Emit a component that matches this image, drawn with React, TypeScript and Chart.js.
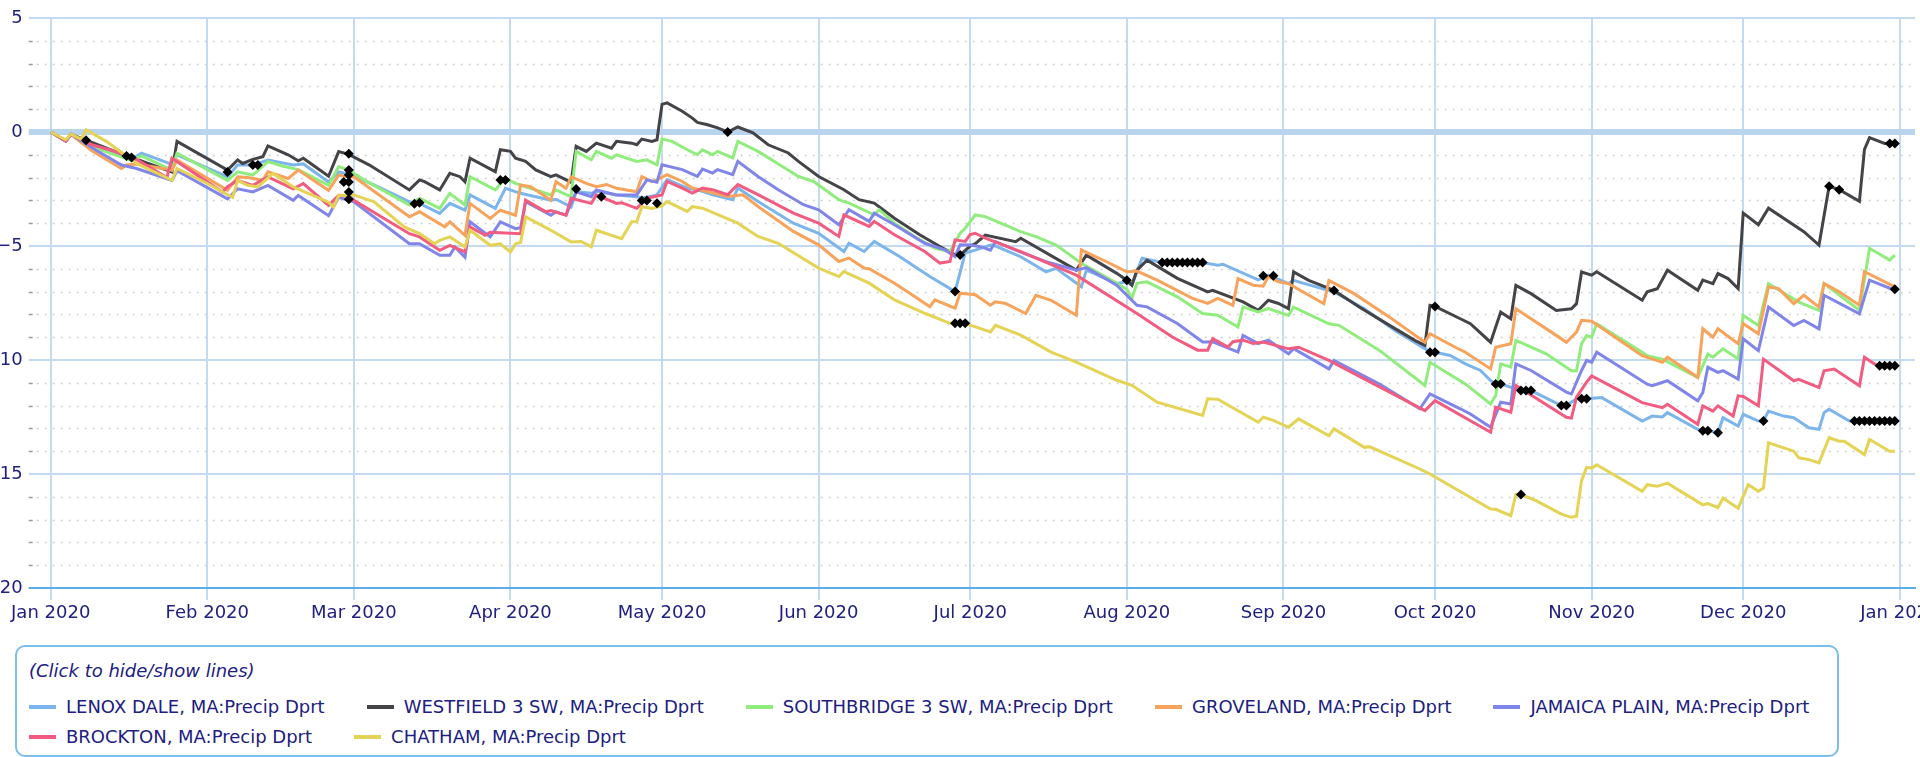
import React, { useEffect, useRef } from 'react';
import { Chart, registerables } from 'chart.js';

Chart.register(...registerables);

// Days counted from 1 Jan 2020 (day 0). 2020 is a leap year.
const monthStartDays = [0, 31, 60, 91, 121, 152, 182, 213, 244, 274, 305, 335, 366];
const monthLabels = [
  'Jan 2020', 'Feb 2020', 'Mar 2020', 'Apr 2020', 'May 2020', 'Jun 2020',
  'Jul 2020', 'Aug 2020', 'Sep 2020', 'Oct 2020', 'Nov 2020', 'Dec 2020', 'Jan 2021',
];
const yTickValues = [-20, -19, -18, -17, -16, -15, -14, -13, -12, -11, -10, -9, -8, -7, -6, -5, -4, -3, -2, -1, 0, 1, 2, 3, 4, 5];

const seriesNames = [
  'LENOX DALE, MA:Precip Dprt',
  'WESTFIELD 3 SW, MA:Precip Dprt',
  'SOUTHBRIDGE 3 SW, MA:Precip Dprt',
  'GROVELAND, MA:Precip Dprt',
  'JAMAICA PLAIN, MA:Precip Dprt',
  'BROCKTON, MA:Precip Dprt',
  'CHATHAM, MA:Precip Dprt',
];
const seriesColors = ['#7cb5ec', '#434348', '#90ed7d', '#f7a35c', '#8085e9', '#f15c80', '#e4d354'];

// [day, departure (in)]
const lenoxDale: [number, number][] = [
  [0, 0], [3, -0.4], [4, -0.1], [10, -0.7], [16, -1.2], [18, -0.93], [24, -1.42], [25, -1.0], [35, -1.97], [37, -1.45],
  [40, -1.45], [43, -1.23], [48, -1.45], [50, -1.4], [55, -2.19], [57, -1.75], [59, -1.85], [64, -2.32], [71, -3.06], [73, -3.13],
  [77, -3.57], [79, -3.13], [82, -3.43], [83, -2.76], [88, -3.35], [90, -2.47], [93, -2.69], [99, -2.99], [100, -2.95], [103, -3.28],
  [104, -2.62], [107, -2.69], [108, -2.6], [112, -2.76], [116, -2.84], [117, -2.9], [120, -2.76], [122, -2.09], [126, -2.46], [129, -2.6],
  [131, -2.75], [135, -2.97], [136, -2.46], [140, -3.05], [147, -4.0], [152, -4.44], [157, -5.24], [158, -4.88], [161, -5.24], [163, -4.8],
  [168, -5.46], [174, -6.34], [179, -7.0], [181, -5.31], [183, -5.18], [186, -4.96], [187, -5.0], [192, -5.47], [197, -6.13], [199, -5.98],
  [204, -6.79], [205, -6.06], [211, -6.64], [213, -6.57], [214, -6.72], [216, -5.54], [220, -5.72], [221, -5.72], [222, -5.72], [223, -5.72],
  [224, -5.72], [225, -5.72], [226, -5.72], [227, -5.72], [228, -5.72], [231, -5.84], [232, -5.8], [239, -6.49], [241, -6.28], [245, -6.65],
  [246, -6.51], [254, -7.02], [260, -7.75], [266, -8.7], [272, -9.5], [273, -9.66], [274, -9.66], [277, -9.8], [280, -10.17], [283, -10.46],
  [285, -10.9], [286, -11.05], [287, -11.05], [291, -11.34], [292, -11.34], [293, -11.34], [299, -12.0], [300, -12.0], [302, -11.7], [303, -11.7],
  [304, -11.7], [307, -11.65], [315, -12.68], [317, -12.46], [319, -12.5], [320, -12.31], [326, -13.04], [327, -13.1], [328, -13.1], [330, -13.19],
  [331, -12.53], [334, -12.9], [335, -12.38], [338, -12.68], [339, -12.68], [340, -12.24], [343, -12.46], [345, -12.53], [348, -12.97], [350, -13.04],
  [351, -12.31], [352, -12.16], [356, -12.68], [357, -12.68], [358, -12.68], [359, -12.68], [360, -12.68], [361, -12.68], [362, -12.68], [363, -12.68],
  [364, -12.68], [365, -12.68],
];

const westfield: [number, number][] = [
  [0, 0], [3, -0.4], [4, -0.1], [7, -0.36], [15, -1.05], [16, -1.12], [24, -1.75], [25, -0.41], [35, -1.67], [37, -1.23],
  [38, -1.38], [40, -1.2], [42, -1.08], [43, -0.61], [47, -1.0], [49, -1.26], [50, -1.15], [55, -1.94], [57, -0.86], [59, -0.98],
  [63, -1.44], [71, -2.54], [73, -2.1], [74, -2.18], [77, -2.54], [79, -1.81], [81, -1.96], [82, -2.18], [83, -1.15], [88, -1.74],
  [89, -0.78], [91, -0.85], [92, -1.15], [94, -1.29], [96, -1.66], [99, -1.96], [100, -1.88], [103, -2.2], [104, -0.63], [106, -0.85],
  [108, -0.49], [111, -0.71], [112, -0.41], [115, -0.49], [116, -0.56], [117, -0.31], [119, -0.41], [120, -0.34], [121, 1.21], [122, 1.28],
  [125, 0.91], [127, 0.61], [128, 0.42], [130, 0.32], [132, 0.18], [134, 0], [136, 0.22], [139, -0.04], [142, -0.56], [146, -0.92],
  [148, -1.29], [152, -1.95], [157, -2.53], [160, -2.97], [163, -3.12], [167, -3.78], [172, -4.51], [176, -5.02], [179, -5.39], [180, -5.39],
  [182, -5.0], [183, -4.9], [185, -4.52], [191, -4.81], [192, -4.66], [203, -6.06], [205, -5.4], [211, -6.2], [213, -6.5], [214, -6.72],
  [215, -6.06], [217, -5.62], [223, -6.42], [226, -6.72], [229, -7.01], [230, -6.94], [236, -7.45], [239, -7.82], [241, -7.38], [243, -7.52],
  [245, -7.75], [246, -6.14], [249, -6.51], [254, -6.95], [259, -7.68], [265, -8.48], [270, -9.14], [272, -9.36], [273, -7.6], [274, -7.65],
  [279, -8.19], [281, -8.41], [285, -9.22], [287, -7.9], [289, -8.19], [290, -6.73], [293, -7.09], [298, -7.83], [301, -7.75], [302, -7.53],
  [303, -6.14], [305, -6.28], [306, -6.13], [315, -7.38], [316, -7.01], [318, -6.87], [320, -6.06], [326, -6.94], [327, -6.5], [329, -6.65],
  [330, -6.21], [332, -6.43], [334, -6.87], [335, -3.56], [338, -4.07], [340, -3.34], [347, -4.37], [350, -4.96], [352, -2.38], [354, -2.53],
  [358, -3.04], [359, -0.76], [360, -0.25], [363, -0.5], [364, -0.5], [365, -0.5],
];

const southbridge: [number, number][] = [
  [0, 0], [3, -0.4], [4, -0.1], [10, -0.8], [16, -1.25], [18, -1.05], [24, -1.67], [25, -0.93], [35, -2.12], [37, -1.75],
  [40, -1.89], [43, -1.3], [46, -1.5], [49, -1.65], [55, -2.34], [57, -1.52], [59, -1.67], [62, -2.1], [71, -3.2], [73, -2.91],
  [77, -3.35], [79, -2.69], [82, -3.2], [83, -1.96], [88, -2.54], [90, -2.03], [92, -2.25], [94, -2.4], [99, -2.76], [100, -2.54],
  [103, -2.84], [104, -0.85], [107, -1.22], [108, -0.85], [111, -1.15], [112, -1.0], [116, -1.29], [118, -1.22], [120, -1.44], [121, -0.31],
  [123, -0.41], [126, -0.78], [128, -1.0], [129, -0.78], [131, -1.0], [132, -0.85], [135, -1.14], [136, -0.41], [140, -0.85], [148, -1.95],
  [151, -2.17], [156, -2.97], [158, -3.12], [163, -3.63], [164, -3.41], [167, -4.0], [171, -4.58], [175, -5.1], [178, -5.24], [180, -4.44],
  [181, -4.22], [183, -3.64], [185, -3.71], [192, -4.37], [195, -4.59], [199, -4.96], [204, -5.76], [210, -6.5], [213, -6.9], [214, -7.3],
  [215, -6.64], [217, -6.57], [223, -7.23], [228, -7.96], [231, -8.04], [235, -8.55], [236, -7.67], [239, -7.89], [241, -7.74], [245, -8.05],
  [246, -7.68], [253, -8.41], [255, -8.48], [263, -9.58], [272, -11.12], [273, -10.1], [280, -11.05], [285, -11.93], [286, -11.56], [287, -10.17],
  [289, -10.31], [290, -9.14], [296, -9.73], [301, -10.47], [302, -10.47], [303, -9.29], [304, -8.93], [305, -9.0], [306, -8.41], [315, -9.66],
  [316, -9.81], [319, -9.96], [326, -10.76], [328, -9.74], [329, -9.88], [331, -9.51], [334, -9.96], [335, -8.04], [338, -8.49], [340, -6.65],
  [346, -7.46], [350, -7.82], [351, -6.65], [358, -7.82], [360, -5.1], [364, -5.62], [365, -5.4],
];

const groveland: [number, number][] = [
  [0, 0], [3, -0.4], [4, -0.1], [8, -0.8], [14, -1.6], [15, -1.45], [17, -1.4], [24, -1.67], [25, -1.23], [35, -2.56],
  [37, -1.97], [39, -2.0], [42, -2.12], [43, -1.75], [47, -2.04], [49, -1.67], [55, -2.56], [57, -1.89], [59, -1.97], [60, -1.96],
  [71, -3.72], [73, -3.5], [78, -4.16], [79, -3.94], [82, -4.53], [83, -3.13], [87, -3.79], [89, -3.43], [92, -3.65], [93, -2.32],
  [95, -2.4], [99, -2.99], [100, -2.18], [102, -2.47], [103, -1.96], [106, -2.25], [108, -2.4], [110, -2.3], [112, -2.47], [116, -2.62],
  [117, -1.96], [119, -2.18], [120, -2.1], [122, -1.87], [125, -2.17], [127, -2.46], [130, -2.61], [134, -2.83], [137, -2.75], [140, -3.27],
  [147, -4.36], [152, -4.95], [156, -5.68], [158, -5.53], [161, -5.97], [162, -6.0], [167, -6.63], [171, -7.22], [174, -7.66], [175, -7.36],
  [179, -7.73], [180, -7.07], [183, -7.14], [186, -7.6], [187, -7.45], [189, -7.52], [193, -7.96], [195, -7.16], [198, -7.38], [203, -8.04],
  [204, -5.18], [209, -5.69], [213, -6.13], [215, -6.1], [219, -6.5], [226, -7.3], [229, -7.52], [231, -7.3], [234, -7.6], [235, -6.43],
  [238, -6.72], [240, -6.76], [241, -6.34], [243, -6.57], [245, -6.65], [252, -7.53], [253, -6.51], [258, -7.09], [265, -8.12], [272, -9.22],
  [273, -8.85], [278, -9.44], [280, -9.66], [285, -10.39], [286, -9.44], [289, -9.29], [290, -7.75], [298, -8.92], [300, -9.22], [302, -8.78],
  [303, -8.26], [305, -8.3], [315, -9.81], [319, -10.1], [320, -9.88], [326, -10.76], [327, -8.63], [329, -9.0], [330, -8.63], [334, -9.29],
  [335, -8.41], [338, -8.85], [340, -6.79], [342, -6.87], [345, -7.53], [347, -7.16], [350, -7.68], [351, -6.65], [354, -7.01], [358, -7.6],
  [359, -6.13], [365, -6.79],
];

const jamaicaPlain: [number, number][] = [
  [0, 0], [3, -0.4], [4, -0.1], [9, -0.8], [14, -1.45], [17, -1.6], [24, -2.12], [25, -1.7], [35, -2.93], [37, -2.49],
  [40, -2.63], [43, -2.34], [48, -3.0], [49, -2.78], [55, -3.67], [57, -2.86], [59, -3.0], [60, -3.06], [71, -4.9], [73, -4.9],
  [77, -5.41], [79, -5.41], [80, -5.04], [82, -5.49], [83, -3.94], [87, -4.6], [89, -3.94], [92, -4.24], [93, -4.2], [94, -3.06],
  [99, -3.65], [100, -3.5], [102, -3.65], [104, -2.62], [107, -2.84], [108, -2.54], [112, -2.76], [116, -2.76], [118, -2.1], [120, -2.2],
  [121, -1.44], [125, -1.65], [128, -1.95], [129, -1.63], [131, -1.8], [132, -1.65], [135, -1.87], [136, -1.29], [140, -1.95], [144, -2.53],
  [149, -3.19], [152, -3.41], [156, -4.07], [158, -3.41], [162, -3.92], [163, -3.56], [167, -4.07], [173, -4.88], [177, -5.17], [179, -5.46],
  [180, -4.95], [182, -4.96], [184, -5.03], [186, -5.18], [187, -4.81], [191, -5.18], [197, -5.69], [203, -6.06], [205, -5.95], [211, -6.72],
  [215, -7.6], [217, -7.67], [223, -8.4], [228, -9.21], [230, -9.2], [235, -9.65], [236, -8.92], [239, -9.28], [241, -9.13], [245, -9.73],
  [246, -9.5], [253, -10.39], [254, -10.02], [263, -11.05], [271, -12.14], [273, -11.49], [279, -12.14], [281, -12.37], [285, -12.95], [287, -11.85],
  [289, -11.93], [290, -10.17], [293, -10.46], [300, -11.41], [301, -11.49], [303, -10.46], [304, -10.02], [305, -10.1], [306, -9.66], [316, -11.06],
  [317, -11.13], [320, -10.91], [326, -11.79], [327, -11.43], [328, -10.32], [330, -10.54], [331, -10.47], [334, -10.84], [335, -9.07], [338, -9.59],
  [340, -7.68], [345, -8.49], [347, -8.26], [350, -8.63], [351, -7.16], [358, -7.97], [360, -6.5], [365, -6.94],
];

const brockton: [number, number][] = [
  [0, 0], [3, -0.4], [4, -0.1], [8, -0.55], [12, -0.8], [17, -1.2], [23, -2.0], [24, -1.15], [34, -2.63], [35, -2.4],
  [37, -2.12], [40, -2.34], [43, -1.97], [48, -2.49], [50, -2.26], [55, -3.22], [57, -2.78], [59, -2.8], [60, -2.99], [71, -4.46],
  [73, -4.6], [77, -5.19], [79, -4.97], [82, -5.26], [83, -4.16], [86, -4.53], [87, -4.4], [93, -4.46], [94, -2.99], [98, -3.5],
  [99, -3.45], [102, -3.65], [103, -2.91], [107, -3.13], [108, -2.76], [112, -3.13], [113, -3.1], [116, -3.35], [118, -2.91], [121, -2.76],
  [122, -2.17], [125, -2.46], [127, -2.68], [129, -2.46], [131, -2.53], [134, -2.75], [136, -2.31], [140, -2.75], [147, -3.56], [152, -4.0],
  [156, -4.58], [157, -3.63], [162, -4.14], [163, -3.92], [167, -4.51], [173, -5.24], [176, -5.75], [178, -5.68], [179, -4.73], [181, -4.8],
  [182, -4.5], [183, -4.44], [185, -4.66], [192, -5.25], [203, -6.28], [215, -7.96], [222, -8.99], [227, -9.57], [229, -9.57], [230, -9.06],
  [233, -9.43], [234, -9.2], [236, -9.13], [238, -9.28], [240, -9.21], [245, -9.51], [247, -9.44], [253, -10.02], [272, -12.22], [274, -11.78],
  [285, -13.17], [286, -12.07], [289, -12.29], [290, -11.12], [300, -12.51], [301, -12.55], [302, -11.63], [304, -10.97], [305, -10.7], [315, -11.87],
  [319, -12.09], [320, -11.94], [326, -12.82], [327, -12.01], [329, -12.24], [330, -12.01], [333, -12.46], [334, -11.57], [335, -11.6], [338, -12.01],
  [339, -9.96], [345, -10.91], [346, -10.85], [350, -11.21], [351, -10.47], [353, -10.4], [358, -11.13], [359, -9.88], [361, -10.18], [362, -10.25],
  [365, -10.25],
];

const chatham: [number, number][] = [
  [0, 0], [3, -0.34], [4, -0.09], [6, -0.31], [7, 0.1], [11, -0.41], [17, -1.38], [24, -2.12], [25, -1.6], [31, -2.26],
  [36, -2.86], [37, -2.12], [39, -2.34], [41, -2.41], [44, -1.82], [48, -2.41], [55, -3.08], [56, -3.3], [57, -2.78], [60, -2.76],
  [64, -3.06], [70, -4.16], [73, -4.46], [76, -4.9], [77, -4.75], [79, -4.6], [82, -5.04], [83, -4.31], [87, -4.97], [89, -4.9],
  [91, -5.26], [92, -4.9], [93, -4.85], [94, -3.72], [99, -4.31], [103, -4.82], [105, -4.8], [107, -5.04], [108, -4.31], [113, -4.68],
  [115, -3.94], [116, -3.94], [117, -3.28], [119, -3.35], [121, -3.24], [122, -3.05], [126, -3.48], [127, -3.27], [129, -3.34], [136, -4.0],
  [140, -4.58], [144, -4.88], [152, -5.97], [156, -6.34], [157, -6.12], [162, -6.63], [167, -7.36], [173, -7.95], [178, -8.39], [179, -8.39],
  [180, -8.39], [181, -8.39], [182, -8.47], [186, -8.77], [187, -8.48], [192, -8.91], [198, -9.65], [203, -10.09], [211, -10.89], [214, -11.11],
  [219, -11.85], [228, -12.43], [229, -11.7], [231, -11.72], [239, -12.73], [240, -12.51], [242, -12.65], [245, -12.95], [247, -12.58], [253, -13.32],
  [254, -13.02], [260, -13.83], [261, -13.8], [271, -14.78], [273, -15.0], [285, -16.54], [286, -16.55], [289, -16.83], [290, -15.9], [291, -15.9],
  [294, -16.17], [299, -16.76], [301, -16.9], [302, -16.85], [303, -15.29], [304, -14.71], [305, -14.74], [306, -14.59], [315, -15.76], [316, -15.47],
  [318, -15.54], [320, -15.4], [327, -16.35], [328, -16.3], [330, -16.47], [331, -16.06], [334, -16.5], [336, -15.47], [338, -15.76], [339, -15.62],
  [340, -13.63], [345, -14.0], [346, -14.29], [348, -14.37], [350, -14.51], [352, -13.41], [354, -13.56], [355, -13.56], [359, -14.15], [360, -13.49],
  [364, -14.0], [365, -14.0],
];

// Flagged (estimated) daily values, drawn as black diamonds
const flaggedPoints: [number, number][] = [
  [7, -0.36], [15, -1.05], [16, -1.12], [35, -1.75], [40, -1.45], [41, -1.45],
  [59, -0.95], [59, -1.67], [59, -1.89], [58, -2.19], [59, -2.19], [59, -2.63], [59, -2.95],
  [72, -3.15], [73, -3.1], [89, -2.1], [90, -2.1], [104, -2.5], [109, -2.84], [117, -3.0], [118, -3.0], [120, -3.13],
  [134, 0], [179, -7.0], [180, -5.39], [179, -8.39], [180, -8.39], [181, -8.39],
  [213, -6.5], [220, -5.72], [221, -5.72], [222, -5.72], [223, -5.72], [224, -5.72], [225, -5.72], [226, -5.72], [227, -5.72], [228, -5.72],
  [240, -6.3], [242, -6.3], [254, -6.95],
  [273, -9.66], [274, -9.66], [274, -7.65], [286, -11.05], [287, -11.05], [291, -11.34], [292, -11.34], [293, -11.34], [291, -15.9],
  [299, -12.0], [300, -12.0], [303, -11.7], [304, -11.7], [327, -13.1], [328, -13.1], [330, -13.19], [339, -12.68],
  [352, -2.38], [354, -2.53],
  [357, -12.68], [358, -12.68], [359, -12.68], [360, -12.68], [361, -12.68], [362, -12.68], [363, -12.68], [364, -12.68], [365, -12.68],
  [362, -10.25], [363, -10.25], [364, -10.25], [365, -10.25],
  [365, -6.9], [364, -0.5], [365, -0.5],
];

const allSeries = [lenoxDale, westfield, southbridge, groveland, jamaicaPlain, brockton, chatham];

const NAVY = '#202080';
const FONT = "'DejaVu Sans', Verdana, sans-serif";
const GRID_BLUE = '#c4dbef';
const AXIS_BLUE = '#5aaee6';

const minorGridPlugin = {
  id: 'minorGrid',
  beforeDatasetsDraw(chart: any) {
    const { ctx, chartArea, scales } = chart;
    const y = scales.y;
    ctx.save();
    ctx.lineWidth = 1.5;
    for (const v of yTickValues) {
      if (v % 5 === 0) continue;
      const py = Math.round(y.getPixelForValue(v)) + 0.5;
      ctx.setLineDash([2, 6]);
      ctx.strokeStyle = '#d0d0d0';
      ctx.beginPath();
      ctx.moveTo(chartArea.left - 14, py);
      ctx.lineTo(chartArea.right, py);
      ctx.stroke();
      ctx.setLineDash([]);
      ctx.strokeStyle = '#9a9a9a';
      ctx.beginPath();
      ctx.moveTo(chartArea.left - 22, py);
      ctx.lineTo(chartArea.left - 18, py);
      ctx.stroke();
    }
    ctx.restore();
  },
};

function formatY(v: number): string {
  if (v % 5 !== 0) return '';
  return v < 0 ? '\u2212' + String(-v) : String(v);
}

export default function App() {
  const canvasRef = useRef<HTMLCanvasElement | null>(null);

  useEffect(() => {
    if (!canvasRef.current) return;
    Chart.defaults.font.family = FONT;
    Chart.defaults.font.size = 18;

    const datasets: any[] = allSeries.map((pts, i) => ({
      label: seriesNames[i],
      data: pts.map(([x, y]) => ({ x, y })),
      borderColor: seriesColors[i],
      backgroundColor: seriesColors[i],
      borderWidth: 3,
      pointRadius: 0,
      tension: 0,
      fill: false,
      order: 10 - i,
    }));
    datasets.push({
      label: 'flagged',
      data: flaggedPoints.map(([x, y]) => ({ x, y })),
      showLine: false,
      pointStyle: 'rectRot',
      pointRadius: 5,
      pointBackgroundColor: '#000',
      pointBorderColor: '#000',
      pointBorderWidth: 0,
      order: 0,
    });

    const chart = new Chart(canvasRef.current, {
      type: 'line',
      data: { datasets },
      options: {
        animation: false,
        responsive: true,
        maintainAspectRatio: false,
        layout: { padding: { left: 0, right: 3, top: 18, bottom: 2 } },
        plugins: { legend: { display: false }, tooltip: { enabled: false } },
        scales: {
          x: {
            type: 'linear',
            min: 0,
            max: 369,
            afterBuildTicks: (s: any) => {
              s.ticks = monthStartDays.map((v) => ({ value: v }));
            },
            afterFit: (s: any) => {
              s.height = 50;
              s.paddingLeft = 0;
              s.paddingRight = 0;
            },
            ticks: {
              autoSkip: false,
              maxRotation: 0,
              padding: 3,
              color: NAVY,
              font: { size: 18, family: FONT },
              callback: (_v: any, i: number) => monthLabels[i],
            },
            grid: { color: GRID_BLUE, lineWidth: 2, tickLength: 12, drawTicks: true },
            border: { display: true, color: AXIS_BLUE, width: 2 },
          },
          y: {
            type: 'linear',
            min: -20,
            max: 5,
            afterBuildTicks: (s: any) => {
              s.ticks = yTickValues.map((v) => ({ value: v }));
            },
            afterFit: (s: any) => {
              s.width = 90.7;
              s.paddingTop = 0;
              s.paddingBottom = 0;
            },
            ticks: {
              autoSkip: false,
              padding: 6,
              color: NAVY,
              font: { size: 18, family: FONT },
              callback: (v: any) => formatY(Number(v)),
            },
            grid: {
              tickLength: 22,
              color: (c: any) => {
                const v = c.tick ? c.tick.value : 1;
                if (v === -20) return AXIS_BLUE;
                if (v === 0) return '#b9d5ee';
                return v % 5 === 0 ? GRID_BLUE : 'rgba(0,0,0,0)';
              },
              lineWidth: (c: any) => {
                const v = c.tick ? c.tick.value : 1;
                if (v === 0) return 6;
                return v % 5 === 0 ? 2 : 1;
              },
            },
            border: { display: false },
          },
        },
      },
      plugins: [minorGridPlugin],
    } as any);

    return () => chart.destroy();
  }, []);

  return (
    <div>
      <div style={{ position: 'fixed', left: -40, top: 0, width: 1960, height: 640 }}>
        <canvas ref={canvasRef} />
      </div>
      <div
        style={{
          position: 'fixed',
          left: 15,
          top: 645,
          width: 1824,
          height: 112,
          boxSizing: 'border-box',
          border: '2px solid #78bfec',
          borderRadius: 10,
          padding: '12px 12px',
          fontFamily: FONT,
          fontSize: 18,
          color: NAVY,
          background: '#fff',
        }}
      >
        <div style={{ fontStyle: 'italic', lineHeight: '24px', whiteSpace: 'nowrap' }}>(Click to hide/show lines)</div>
        <div style={{ display: 'flex', flexWrap: 'wrap', columnGap: 42, marginTop: 9, lineHeight: '30px' }}>
          {seriesNames.map((name, i) => (
            <span key={name} style={{ display: 'inline-flex', alignItems: 'center', whiteSpace: 'nowrap' }}>
              <span style={{ display: 'inline-block', width: 27, height: 4, background: seriesColors[i], marginRight: 10 }} />
              {name}
            </span>
          ))}
        </div>
      </div>
    </div>
  );
}
